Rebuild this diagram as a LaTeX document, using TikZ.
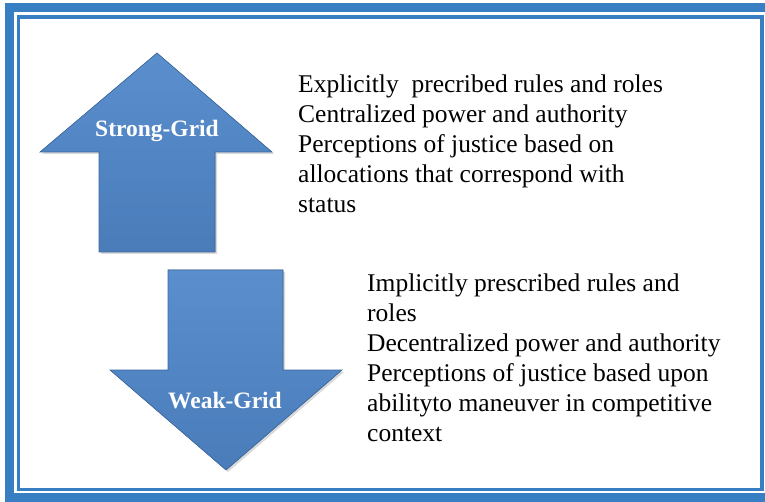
\documentclass[tikz,border=0pt]{standalone}
\usepackage{fontspec}
\setmainfont{Liberation Serif}
\usetikzlibrary{shadows}

\definecolor{bleucadre}{RGB}{56,126,194}
\definecolor{bleufleche}{RGB}{74,124,186}
\definecolor{bleuclair}{RGB}{90,142,204}
\definecolor{bleufonce}{RGB}{60,104,160}

\begin{document}
\begin{tikzpicture}[
    x=1pt, y=-1pt,  % coordonnées en points, y vers le bas
    cadre/.style={draw=bleucadre},
    % Flèches pleines avec une légère ombre
    fleche/.style={top color=bleuclair, bottom color=bleufleche, draw=bleufonce,
        line width=0.6pt, line join=miter,
        drop shadow={opacity=0.3, shadow xshift=2pt, shadow yshift=-2pt}},
    etiquette/.style={text=white, inner sep=0pt,
        font=\fontsize{23.5}{28}\selectfont\bfseries},
    texte/.style={align=left, anchor=north west, inner sep=0pt,
        font=\fontsize{25.5}{30}\selectfont}
]
\useasboundingbox (0,0) rectangle (765,502);

% Cadre double
\draw[cadre, line width=9pt] (9,8) rectangle (771,497.5);
\draw[cadre, line width=3.5pt] (18.5,17) rectangle (762,489.5);

% Flèche vers le haut
\filldraw[fleche] (157,53) -- (272,152) -- (215,152) -- (215,252)
    -- (99,252) -- (99,152) -- (40,152) -- cycle;
\node[etiquette] (fort) at (157,131) {Strong-Grid};

% Flèche vers le bas
\filldraw[fleche] (168,270) -- (283,270) -- (283,370) -- (342,370)
    -- (226,470) -- (110,370) -- (168,370) -- cycle;
\node[etiquette] (faible) at (225,401) {Weak-Grid};

% Textes
\node[texte] (texteFort) at (298,75) {Explicitly~~precribed rules and roles\\
    Centralized power and authority\\
    Perceptions of justice based on\\
    allocations that correspond with\\
    status};
\node[texte] (texteFaible) at (367,274) {Implicitly prescribed rules and\\
    roles\\
    Decentralized power and authority\\
    Perceptions of justice based upon\\
    abilityto maneuver in competitive\\
    context};
\end{tikzpicture}
\end{document}
